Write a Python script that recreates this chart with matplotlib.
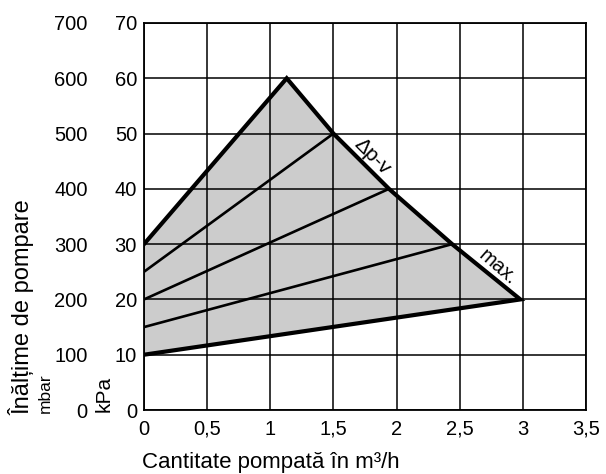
import matplotlib.pyplot as plt
import numpy as np

plt.rcParams['font.family'] = ['Liberation Sans', 'DejaVu Sans']

# flow (m3/h) and head (kPa) of the operating field
outer_x = [0, 1.13, 1.5, 1.94, 2.44, 2.98, 0]
outer_y = [30, 60, 50, 40, 30, 20, 10]
# characteristic lines Δp-v, from the y axis to the max curve
inner_start = [25, 20, 15]
inner_end_x = [1.5, 1.94, 2.44]
inner_end_y = [50, 40, 30]

x_ticks = [0, 0.5, 1, 1.5, 2, 2.5, 3, 3.5]
x_labels = ['0', '0,5', '1', '1,5', '2', '2,5', '3', '3,5']
kpa_ticks = [0, 10, 20, 30, 40, 50, 60, 70]
mbar_ticks = [0, 100, 200, 300, 400, 500, 600, 700]

fig = plt.figure(figsize=(6.06, 4.74), dpi=100)
ax = fig.add_axes([0.2376, 0.135, 0.7294, 0.8165])

# gray field
ax.fill(outer_x, outer_y, color='#cccccc', zorder=1)

# grid
for gx in x_ticks:
    ax.axvline(gx, color='black', lw=1.1, zorder=2)
for gy in kpa_ticks:
    ax.axhline(gy, color='black', lw=1.1, zorder=2)

# inner lines
for s, ex, ey in zip(inner_start, inner_end_x, inner_end_y):
    ax.plot([0, ex], [s, ey], color='black', lw=1.9, zorder=3, solid_capstyle='butt')

# outer boundary
ax.plot(outer_x, outer_y, color='black', lw=3.0, zorder=4, solid_joinstyle='miter')

ax.text(1.81, 45.9, 'Δp-v', rotation=-45, fontsize=15, ha='center', va='center')
ax.text(2.80, 25.9, 'max.', rotation=-41, fontsize=14.5, ha='center', va='center')

ax.set_xlim(0, 3.5)
ax.set_ylim(0, 70)
ax.set_xticks(x_ticks)
ax.set_xticklabels(x_labels)
ax.set_yticks(kpa_ticks)
ax.tick_params(length=0, labelsize=14.5, pad=5)
ax.tick_params(axis='x', pad=7)
for sp in ax.spines.values():
    sp.set_linewidth(1.3)

sec = ax.secondary_yaxis(-0.127, functions=(lambda k: k * 10, lambda m: m / 10))
sec.set_yticks(mbar_ticks)
sec.tick_params(length=0, labelsize=14.5, pad=0)
sec.spines['left'].set_visible(False)

fig.text(0.234, 0.013, 'Cantitate pompată în m³/h', fontsize=16, ha='left', va='baseline')
fig.text(0.035, 0.125, 'Înălțime de pompare', rotation=90, fontsize=17, ha='center', va='bottom')
fig.text(0.074, 0.129, 'mbar', rotation=90, fontsize=12.5, ha='center', va='bottom')
fig.text(0.172, 0.131, 'kPa', rotation=90, fontsize=15, ha='center', va='bottom')

fig.savefig('out.png', dpi=100)
